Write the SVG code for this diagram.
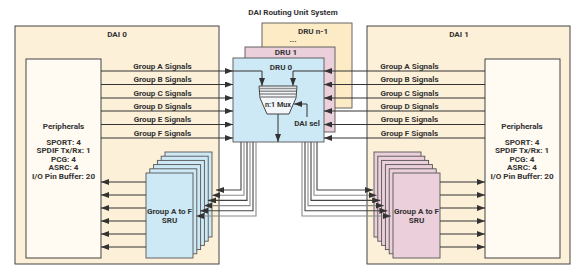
<svg xmlns="http://www.w3.org/2000/svg" width="585" height="277" viewBox="0 0 585 277">
<defs>
<marker id="ah" markerUnits="userSpaceOnUse" markerWidth="8" markerHeight="6" refX="8" refY="3" orient="auto">
<path d="M0,0 L8,3 L0,6 z" fill="#333"/>
</marker>
<style>
.t{font-family:Roboto,"Liberation Sans",sans-serif;font-weight:bold;font-size:8.1px;fill:#333;text-anchor:middle}
.dai{fill:#fdf0d8;stroke:#444;stroke-width:1}
.per{fill:#fffaf2;stroke:#444;stroke-width:1}
.blue{fill:#cde9f5;stroke:#555;stroke-width:0.9}
.pink{fill:#ebcfda;stroke:#555;stroke-width:0.9}
.beige{fill:#fdebc6;stroke:#555;stroke-width:0.9}
.c{fill:none;stroke:#333;stroke-width:1;marker-end:url(#ah)}
.b1{fill:none;stroke:#444;stroke-width:1.1;marker-end:url(#ah)}
.b2{fill:none;stroke:#8a8a8a;stroke-width:1.1;marker-end:url(#ah)}
</style>
</defs>
<rect width="585" height="277" fill="#fff"/>
<text class="t" x="293" y="15">DAI Routing Unit System</text>

<g id="dai0">
<rect class="dai" x="15" y="26" width="204" height="238"/>
<text class="t" x="117" y="37">DAI 0</text>
</g>
<g id="dai1">
<rect class="dai" x="367" y="26" width="203" height="238"/>
<text class="t" x="459" y="37">DAI 1</text>
</g>

<g id="peripherals0">
<rect class="per" x="26" y="59" width="75" height="199"/>
<text class="t" x="63.5" y="129">Peripherals</text>
<text class="t" x="63.5" y="144.5">SPORT: 4</text>
<text class="t" x="63.5" y="153">SPDIF Tx/Rx: 1</text>
<text class="t" x="63.5" y="161.5">PCG: 4</text>
<text class="t" x="63.5" y="170">ASRC: 4</text>
<text class="t" x="63.5" y="178.5">I/O Pin Buffer: 20</text>
</g>
<g id="peripherals1">
<rect class="per" x="485" y="59" width="75" height="199"/>
<text class="t" x="522" y="129">Peripherals</text>
<text class="t" x="522" y="144.5">SPORT: 4</text>
<text class="t" x="522" y="153">SPDIF Tx/Rx: 1</text>
<text class="t" x="522" y="161.5">PCG: 4</text>
<text class="t" x="522" y="170">ASRC: 4</text>
<text class="t" x="522" y="178.5">I/O Pin Buffer: 20</text>
</g>

<g id="dru_n1">
<rect class="beige" x="262" y="23" width="90" height="85"/>
<text class="t" x="313" y="33.5">DRU n-1</text>
<text class="t" x="293" y="42">...</text>
</g>
<g id="dru1">
<rect class="pink" x="245" y="47" width="90" height="85"/>
<text class="t" x="286" y="54.5">DRU 1</text>
</g>
<g id="dru0">
<rect class="blue" x="233" y="58" width="91" height="84"/>
<text class="t" x="281" y="69.5">DRU 0</text>
</g>

<g id="sru0">
<rect class="blue" x="165" y="152" width="47" height="85"/>
<rect class="blue" x="161.2" y="156.2" width="47" height="85"/>
<rect class="blue" x="157.4" y="160.4" width="47" height="85"/>
<rect class="blue" x="153.6" y="164.6" width="47" height="85"/>
<rect class="blue" x="149.8" y="168.8" width="47" height="85"/>
<rect class="blue" x="146" y="173" width="47" height="85"/>
<text class="t" x="169.5" y="213.5">Group A to F</text>
<text class="t" x="169.5" y="222.5">SRU</text>
</g>
<g id="sru1">
<rect class="pink" x="374" y="152" width="47" height="85"/>
<rect class="pink" x="377.8" y="156.2" width="47" height="85"/>
<rect class="pink" x="381.6" y="160.4" width="47" height="85"/>
<rect class="pink" x="385.4" y="164.6" width="47" height="85"/>
<rect class="pink" x="389.2" y="168.8" width="47" height="85"/>
<rect class="pink" x="393" y="173" width="47" height="85"/>
<text class="t" x="416.5" y="213.5">Group A to F</text>
<text class="t" x="416.5" y="222.5">SRU</text>
</g>

<g id="connectors">
<path class="c" d="M101,71 H233"/>
<path class="c" d="M101,84.5 H233"/>
<path class="c" d="M101,98 H233"/>
<path class="c" d="M101,111 H233"/>
<path class="c" d="M101,124.5 H233"/>
<path class="c" d="M101,138 H233"/>
<text class="t" x="162.5" y="68.5">Group A Signals</text>
<text class="t" x="162.5" y="82">Group B Signals</text>
<text class="t" x="162.5" y="95.5">Group C Signals</text>
<text class="t" x="162.5" y="108.5">Group D Signals</text>
<text class="t" x="162.5" y="122">Group E Signals</text>
<text class="t" x="162.5" y="135.5">Group F Signals</text>
<path class="c" d="M485,71 H324"/>
<path class="c" d="M485,84.5 H324"/>
<path class="c" d="M485,98 H324"/>
<path class="c" d="M485,111 H324"/>
<path class="c" d="M485,124.5 H324"/>
<path class="c" d="M485,138 H324"/>
<text class="t" x="409.5" y="68.5">Group A Signals</text>
<text class="t" x="409.5" y="82">Group B Signals</text>
<text class="t" x="409.5" y="95.5">Group C Signals</text>
<text class="t" x="409.5" y="108.5">Group D Signals</text>
<text class="t" x="409.5" y="122">Group E Signals</text>
<text class="t" x="409.5" y="135.5">Group F Signals</text>
<path class="c" d="M233,71 H262 V86"/>
<path class="c" d="M324,71 H293 V86"/>
<path class="c" d="M278,114 V142"/>
<path class="c" d="M307,117 V104 H294"/>
<path class="b1" d="M241,142 V190 H216"/>
<path class="b2" d="M244,142 V195.2 H212"/>
<path class="b1" d="M247,142 V200.4 H208"/>
<path class="b2" d="M250,142 V205.6 H204"/>
<path class="b1" d="M253,142 V210.8 H200"/>
<path class="b2" d="M256,142 V216 H196"/>
<path class="b1" d="M317,142 V190 H373"/>
<path class="b2" d="M314,142 V195.2 H376.6"/>
<path class="b1" d="M311,142 V200.4 H380.2"/>
<path class="b2" d="M308,142 V205.6 H383.8"/>
<path class="b1" d="M305,142 V210.8 H387.4"/>
<path class="b2" d="M302,142 V216 H391"/>
<path class="c" d="M146,182 H101"/>
<path class="c" d="M146,195 H101"/>
<path class="c" d="M146,208 H101"/>
<path class="c" d="M146,221 H101"/>
<path class="c" d="M146,234 H101"/>
<path class="c" d="M146,247 H101"/>
<path class="c" d="M440,182 H485"/>
<path class="c" d="M440,195 H485"/>
<path class="c" d="M440,208 H485"/>
<path class="c" d="M440,221 H485"/>
<path class="c" d="M440,234 H485"/>
<path class="c" d="M440,247 H485"/>
</g>

<g id="mux">
<polygon points="259,86 297,86 296,98 289,114 267,114 260,98" fill="#f4f7f9" stroke="#444" stroke-width="1"/>
<g stroke="#8f8f8f" stroke-width="1.5">
<line x1="260" y1="88.5" x2="296" y2="88.5"/>
<line x1="260" y1="91.3" x2="296" y2="91.3"/>
<line x1="260" y1="94.1" x2="296" y2="94.1"/>
<line x1="260" y1="96.9" x2="296" y2="96.9"/>
</g>
<text class="t" x="278" y="106.5" style="font-size:7.2px">n:1 Mux</text>
<text class="t" x="307" y="126">DAI sel</text>
</g>
</svg>
